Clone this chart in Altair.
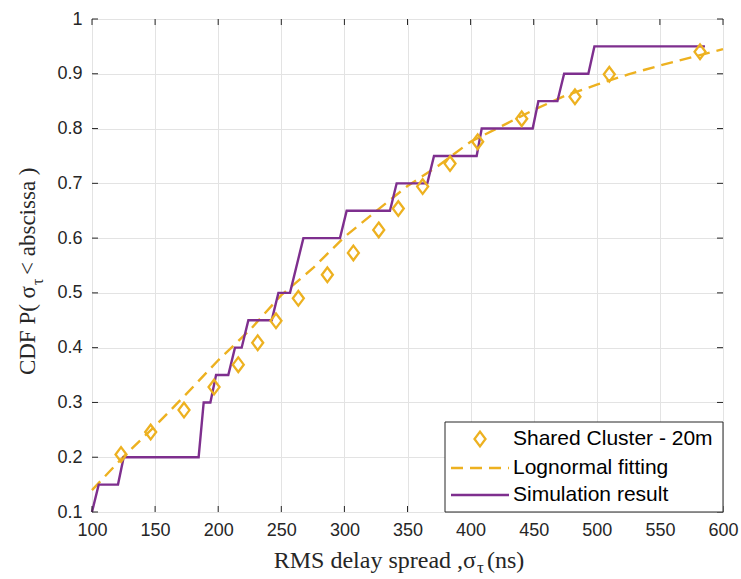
import altair as alt
import pandas as pd

# ---------------- data ----------------
sim_x = [100, 105.3, 120.6, 125.1, 184.5, 188.5, 193.8, 198.3, 208.0, 213.3, 218.6,
         223.9, 242.4, 247.7, 256.9, 267.5, 296.5, 301.8, 336.1, 341.4, 365.7, 371.0,
         404.8, 408.8, 449.2, 453.7, 468.8, 474.1, 493.3, 498.1, 585.7]
sim_y = [0.10, 0.15, 0.15, 0.20, 0.20, 0.30, 0.30, 0.35, 0.35, 0.40, 0.40,
         0.45, 0.45, 0.50, 0.50, 0.60, 0.60, 0.65, 0.65, 0.70, 0.70, 0.75,
         0.75, 0.80, 0.80, 0.85, 0.85, 0.90, 0.90, 0.95, 0.95]

meas_x = [123, 146.5, 172.9, 196.7, 215.9, 231.3, 245.8, 263.5, 286.5, 307.1,
          327.2, 342.7, 362, 383.7, 405.6, 440.5, 482.7, 509.9, 581.8]
meas_y = [0.205, 0.246, 0.286, 0.328, 0.369, 0.409, 0.449, 0.490, 0.533, 0.573,
          0.615, 0.654, 0.694, 0.736, 0.776, 0.818, 0.858, 0.899, 0.940]

fit_x = [100, 125, 150, 175, 200, 225, 250, 275, 300, 325, 350, 375, 400,
         425, 450, 475, 500, 525, 550, 575, 600]
fit_y = [0.140, 0.201, 0.257, 0.316, 0.377, 0.432, 0.496, 0.545, 0.602, 0.649,
         0.695, 0.733, 0.776, 0.805, 0.834, 0.860, 0.880, 0.899, 0.915, 0.930, 0.945]

x_ticks = [100, 150, 200, 250, 300, 350, 400, 450, 500, 550, 600]
y_ticks = [0.1, 0.2, 0.3, 0.4, 0.5, 0.6, 0.7, 0.8, 0.9, 1.0]

legend_labels = ["Shared Cluster - 20m", "Lognormal fitting", "Simulation result"]
x_title_parts = ["RMS delay spread ,\u03c3", "\u03c4", "(ns)"]
y_title_parts = ["CDF P( \u03c3", "\u03c4", " < abscissa )"]

# ---------------- styling ----------------
W, H = 631, 493
ORANGE = "#EDB120"
PURPLE = "#7E2F8E"
AXC = "#262626"
DIAMOND = "M0,-1L0.75,0L0,1L-0.75,0Z"

xs = alt.Scale(domain=[100, 600], nice=False, zero=False)
ys = alt.Scale(domain=[0.1, 1.0], nice=False, zero=False)
xax = alt.Axis(values=x_ticks, title=None, grid=True, gridColor="#e3e3e3", domain=False,
               ticks=False, tickSize=0, labelPadding=9, labelFont="Liberation Sans",
               labelFontSize=18, labelColor=AXC, format="d", labelFlush=False,
               labelOverlap=False)
yax = alt.Axis(values=y_ticks, title=None, grid=True, gridColor="#e3e3e3", domain=False,
               ticks=False, tickSize=0, labelPadding=10, labelFont="Liberation Sans",
               labelFontSize=18, labelColor=AXC, format=".1~f", labelFlush=False,
               labelOverlap=False)


def X(f):
    return alt.X(f, type="quantitative", scale=xs, axis=xax)


def Y(f):
    return alt.Y(f, type="quantitative", scale=ys, axis=yax)


sim_df = pd.DataFrame({"x": sim_x, "y": sim_y, "i": range(len(sim_x))})
meas_df = pd.DataFrame({"x": meas_x, "y": meas_y})
fit_df = pd.DataFrame({"x": fit_x, "y": fit_y})
xt_df = pd.DataFrame({"v": x_ticks})
yt_df = pd.DataFrame({"v": y_ticks})

fit = alt.Chart(fit_df).mark_line(color=ORANGE, strokeWidth=2.4, strokeDash=[12, 7]).encode(
    x=X("x"), y=Y("y"))
sim = alt.Chart(sim_df).mark_line(color=PURPLE, strokeWidth=2.4).encode(
    x=X("x"), y=Y("y"), order="i:Q")
meas = alt.Chart(meas_df).mark_point(shape=DIAMOND, size=215, filled=False, color=ORANGE,
                                     strokeWidth=2.3, opacity=1).encode(x=X("x"), y=Y("y"))

# inward ticks on all four sides
tb = alt.Chart(xt_df).mark_rule(color=AXC, strokeWidth=1).encode(
    x=X("v"), y=alt.value(H), y2=alt.value(H - 6))
tt = alt.Chart(xt_df).mark_rule(color=AXC, strokeWidth=1).encode(
    x=X("v"), y=alt.value(0), y2=alt.value(6))
tl = alt.Chart(yt_df).mark_rule(color=AXC, strokeWidth=1).encode(
    y=Y("v"), x=alt.value(0), x2=alt.value(6))
tr = alt.Chart(yt_df).mark_rule(color=AXC, strokeWidth=1).encode(
    y=Y("v"), x=alt.value(W - 6), x2=alt.value(W))


def one(t):
    return pd.DataFrame({"t": [t]})


# legend
lx0, lx1, ly0, ly1 = 353, 631, 403, 493
rows = [420, 449, 476]
leg = [alt.Chart(one("box")).mark_rect(fill="white", stroke=AXC, strokeWidth=1).encode(
    x=alt.value(lx0), x2=alt.value(lx1), y=alt.value(ly0), y2=alt.value(ly1))]
leg.append(alt.Chart(one(legend_labels[0])).mark_point(
    shape=DIAMOND, size=215, filled=False, color=ORANGE, strokeWidth=2.3, opacity=1).encode(
    x=alt.value(388), y=alt.value(rows[0])))
leg.append(alt.Chart(one(legend_labels[1])).mark_rule(
    color=ORANGE, strokeWidth=2.4, strokeDash=[12, 7]).encode(
    x=alt.value(359), x2=alt.value(417), y=alt.value(rows[1])))
leg.append(alt.Chart(one(legend_labels[2])).mark_rule(
    color=PURPLE, strokeWidth=2.4).encode(
    x=alt.value(359), x2=alt.value(417), y=alt.value(rows[2])))
for lab, ry in zip(legend_labels, rows):
    leg.append(alt.Chart(one(lab)).mark_text(
        align="left", baseline="middle", font="Liberation Sans", fontSize=21, color="black").encode(
        text="t:N", x=alt.value(421), y=alt.value(ry)))

# axis titles (with subscripts)
SERIF = "Liberation Serif"
titles = [
    alt.Chart(one(x_title_parts[0])).mark_text(align="right", baseline="alphabetic", font=SERIF,
                                               fontSize=24, color=AXC).encode(
        text="t:N", x=alt.value(384), y=alt.value(549)),
    alt.Chart(one(x_title_parts[1])).mark_text(align="left", baseline="alphabetic", font=SERIF,
                                               fontSize=17, color=AXC).encode(
        text="t:N", x=alt.value(385), y=alt.value(554)),
    alt.Chart(one(x_title_parts[2])).mark_text(align="left", baseline="alphabetic", font=SERIF,
                                               fontSize=24, color=AXC).encode(
        text="t:N", x=alt.value(395), y=alt.value(549)),
    alt.Chart(one(y_title_parts[0])).mark_text(align="right", baseline="alphabetic", font=SERIF,
                                               fontSize=23, color=AXC, angle=270).encode(
        text="t:N", x=alt.value(-57), y=alt.value(267)),
    alt.Chart(one(y_title_parts[1])).mark_text(align="left", baseline="alphabetic", font=SERIF,
                                               fontSize=16, color=AXC, angle=270).encode(
        text="t:N", x=alt.value(-49), y=alt.value(266)),
    alt.Chart(one(y_title_parts[2])).mark_text(align="left", baseline="alphabetic", font=SERIF,
                                               fontSize=23, color=AXC, angle=270).encode(
        text="t:N", x=alt.value(-57), y=alt.value(256)),
]

chart = alt.layer(fit, sim, meas, tb, tt, tl, tr, *leg, *titles).properties(
    width=W, height=H,
    autosize=alt.AutoSizeParams(type="none"),
    padding={"left": 92, "top": 19, "right": 18, "bottom": 67},
    background="white",
).configure_view(stroke=AXC, strokeWidth=1)

chart.save("out.html", embed_options={"renderer": "svg", "actions": False})
